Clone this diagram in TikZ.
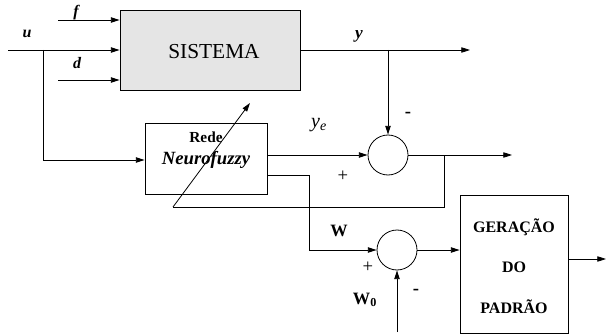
\documentclass[tikz,border=0pt]{standalone}
\usepackage{fontspec}
\setmainfont{Liberation Serif}
\usetikzlibrary{arrows.meta}
\begin{document}
\begin{tikzpicture}[x=0.75pt,y=-0.75pt,line width=0.6pt,
    every node/.style={font=\fontsize{12}{14}\selectfont},
    >={Triangle[length=6.5pt,width=4pt]},
    block/.style={draw,inner sep=0pt},
    sumnode/.style={draw,circle,minimum size=30pt,inner sep=0pt},
    sig/.style={font=\fontsize{12}{14}\selectfont\bfseries\itshape},
    sgn/.style={font=\fontsize{14}{16}\selectfont}]
    \useasboundingbox (0,0) rectangle (607,335);
    % blocks
    \node[block,fill=black!10,minimum width=135pt,minimum height=60pt] (sis) at (210,50) {};
    \node[font=\fontsize{16}{18}\selectfont] (sistxt) at (214,52) {SISTEMA};
    \node[block,minimum width=91.5pt,minimum height=53.25pt] (rede) at (206,158.5) {};
    \node[font=\fontsize{11.5}{13}\selectfont\bfseries] (redetxt) at (206,137) {Rede};
    \node[font=\fontsize{14}{16}\selectfont\bfseries\itshape] (nftxt) at (206,160) {Neurofuzzy};
    \node[block,minimum width=81pt,minimum height=103.5pt] (gen) at (514,264) {};
    \node[font=\fontsize{12}{14}\selectfont\bfseries] (gen1) at (514,227) {GERAÇÃO};
    \node[font=\fontsize{12}{14}\selectfont\bfseries] (gen2) at (514,267) {DO};
    \node[font=\fontsize{12}{14}\selectfont\bfseries] (gen3) at (514,307) {PADRÃO};
    \node[sumnode] (sum1) at (388,155) {};
    \node[sumnode] (sum2) at (397,250) {};
    % inputs
    \coordinate (fin) at (58,20);
    \coordinate (uin) at (8,50);
    \coordinate (din) at (58,80);
    \coordinate (ubr) at (43,50);
    \coordinate (ubot) at (43,160);
    \draw[->] (fin) -- (sis.west |- fin);
    \draw[->] (uin) -- (sis.west);
    \draw[->] (din) -- (sis.west |- din);
    \draw[->] (ubr) -- (ubot) -- (rede.west |- ubot);
    \node[sig] (flab) at (76,13) {f};
    \node[sig] (ulab) at (27,34) {u};
    \node[sig] (dlab) at (77,63) {d};
    % output y
    \coordinate (yout) at (470,50);
    \coordinate (ybr) at (388,50);
    \draw[->] (sis.east) -- (yout);
    \draw[->] (ybr) -- (sum1.north);
    \node[font=\fontsize{13}{15}\selectfont\bfseries\itshape] (ylab) at (359,36) {y};
    \node[sgn,font=\fontsize{14}{16}\selectfont\bfseries] (m1) at (408,115) {-};
    % network output and error
    \draw[->] (rede.east |- sum1) -- (sum1.west);
    \node[font=\fontsize{15}{17}\selectfont\itshape] (yelab) at (319,125) {y\textsubscript{e}};
    \node[sgn] (p1) at (343,176) {+};
    \coordinate (eout) at (512,155);
    \coordinate (ebr) at (444,155);
    \coordinate (ebot) at (444,207);
    \coordinate (tail) at (173,207);
    \coordinate (tip) at (250,103);
    \draw[->] (sum1.east) -- (eout);
    \draw (ebr) -- (ebot) -- (tail);
    \draw[->] (tail) -- (tip);
    % weights
    \coordinate (wout) at (267,175);
    \coordinate (wbend) at (309,175);
    \coordinate (w0in) at (397,332);
    \coordinate (gout) at (606,259);
    \draw[->] (wout) -- (wbend) -- (wbend |- sum2) -- (sum2.west);
    \draw[->] (w0in) -- (sum2.south);
    \draw[->] (sum2.east) -- (gen.west |- sum2);
    \draw[->] (gen.east |- gout) -- (gout);
    \node[font=\fontsize{13}{15}\selectfont\bfseries] (wlab) at (339,231) {W};
    \node[sgn] (p2) at (368,267) {+};
    \node[font=\fontsize{13}{15}\selectfont\bfseries] (w0lab) at (365,300) {W\textsubscript{0}};
    \node[sgn,font=\fontsize{14}{16}\selectfont\bfseries] (m2) at (416,292) {-};
\end{tikzpicture}
\end{document}
